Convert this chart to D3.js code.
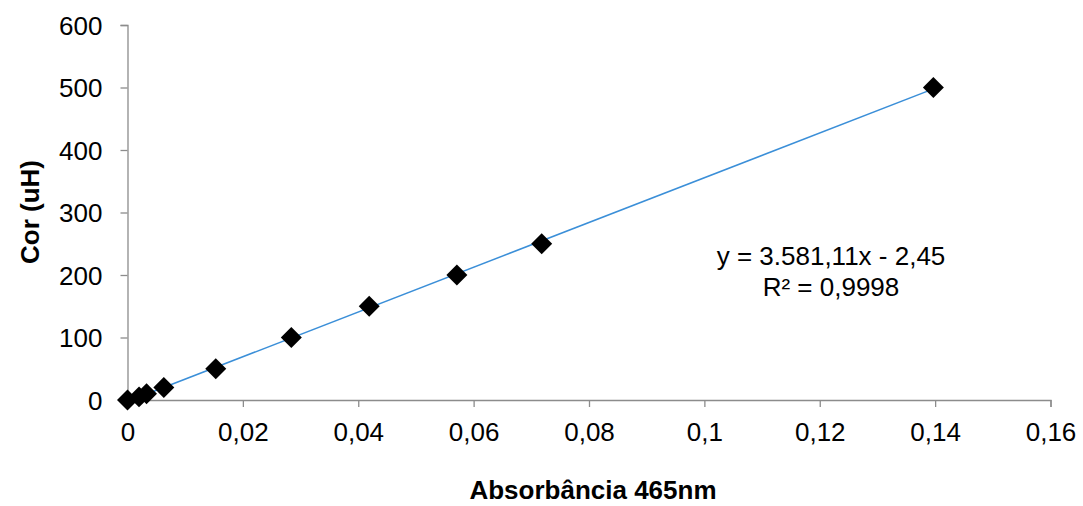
<!DOCTYPE html>
<html>
<head>
<meta charset="utf-8">
<script src="https://cdn.jsdelivr.net/npm/d3@7"></script>
<style>
  html, body { margin: 0; padding: 0; background: #fff; }
  svg { display: block; font-family: "Liberation Sans", Arial, sans-serif; }
</style>
</head>
<body>
<svg id="chart" width="1083" height="506"></svg>
<script>
// Calibration points: absorbance at 465 nm vs colour (uH)
const absorbance = [0, 0.0020, 0.0033, 0.0063, 0.0153, 0.0284, 0.0419, 0.0571, 0.0718, 0.1397];
const colour     = [0, 5, 10, 20, 50, 100, 150, 200, 250, 500];

// Linear fit reported on the chart
const slope = 3581.11;
const intercept = -2.45;
const equationLines = ["y = 3.581,11x - 2,45", "R² = 0,9998"];

const xTicks = [0, 0.02, 0.04, 0.06, 0.08, 0.1, 0.12, 0.14, 0.16];
const yTicks = [0, 100, 200, 300, 400, 500, 600];

const svg = d3.select("#chart");
const margin = { left: 127.5, right: 1050.5, top: 25, bottom: 400 };
const fontSize = "26px";

const x = d3.scaleLinear().domain([0, 0.16]).range([margin.left, margin.right]);
const y = d3.scaleLinear().domain([0, 600]).range([margin.bottom, margin.top]);

const commaFmt = v => String(+v.toFixed(4)).replace(".", ",");

// Axes
const xAxis = svg.append("g")
  .attr("transform", `translate(0,${margin.bottom})`)
  .call(d3.axisBottom(x).tickValues(xTicks).tickFormat(commaFmt).tickSize(7).tickPadding(16));
const yAxis = svg.append("g")
  .attr("transform", `translate(${margin.left},0)`)
  .call(d3.axisLeft(y).tickValues(yTicks).tickSize(7).tickPadding(18));

[xAxis, yAxis].forEach(g => {
  g.select(".domain").attr("stroke", "#8c8c8c").attr("stroke-width", 1.3);
  g.selectAll(".tick line").attr("stroke", "#8c8c8c").attr("stroke-width", 1.3);
  g.selectAll(".tick text").attr("fill", "#000").style("font-size", fontSize)
    .style("font-family", "'Liberation Sans', Arial, sans-serif");
});
yAxis.selectAll(".tick text").attr("dy", "0.36em");

// Trendline across the data range
const xr = d3.extent(absorbance);
svg.append("line")
  .attr("x1", x(xr[0])).attr("y1", y(slope * xr[0] + intercept))
  .attr("x2", x(xr[1])).attr("y2", y(slope * xr[1] + intercept))
  .attr("stroke", "#3b8fd8").attr("stroke-width", 1.5);

// Diamond markers
const diamond = d3.symbol().type(d3.symbolSquare).size(220);
svg.append("g").selectAll("path")
  .data(absorbance.map((a, i) => [a, colour[i]]))
  .join("path")
  .attr("d", diamond)
  .attr("transform", d => `translate(${x(d[0])},${y(d[1])}) rotate(45)`)
  .attr("fill", "#000");

// Equation label
svg.append("text")
  .attr("x", 830).attr("y", 265)
  .attr("text-anchor", "middle")
  .style("font-size", fontSize)
  .selectAll("tspan")
  .data(equationLines)
  .join("tspan")
  .attr("x", 831)
  .attr("dy", (d, i) => i === 0 ? 0 : 31)
  .text(d => d);

// Axis titles
svg.append("text")
  .attr("transform", "translate(39,212) rotate(-90)")
  .attr("text-anchor", "middle")
  .style("font-size", "26px").style("font-weight", "bold")
  .text("Cor (uH)");

svg.append("text")
  .attr("x", 593).attr("y", 499)
  .attr("text-anchor", "middle")
  .style("font-size", "26px").style("font-weight", "bold")
  .text("Absorbância 465nm");
</script>
</body>
</html>
